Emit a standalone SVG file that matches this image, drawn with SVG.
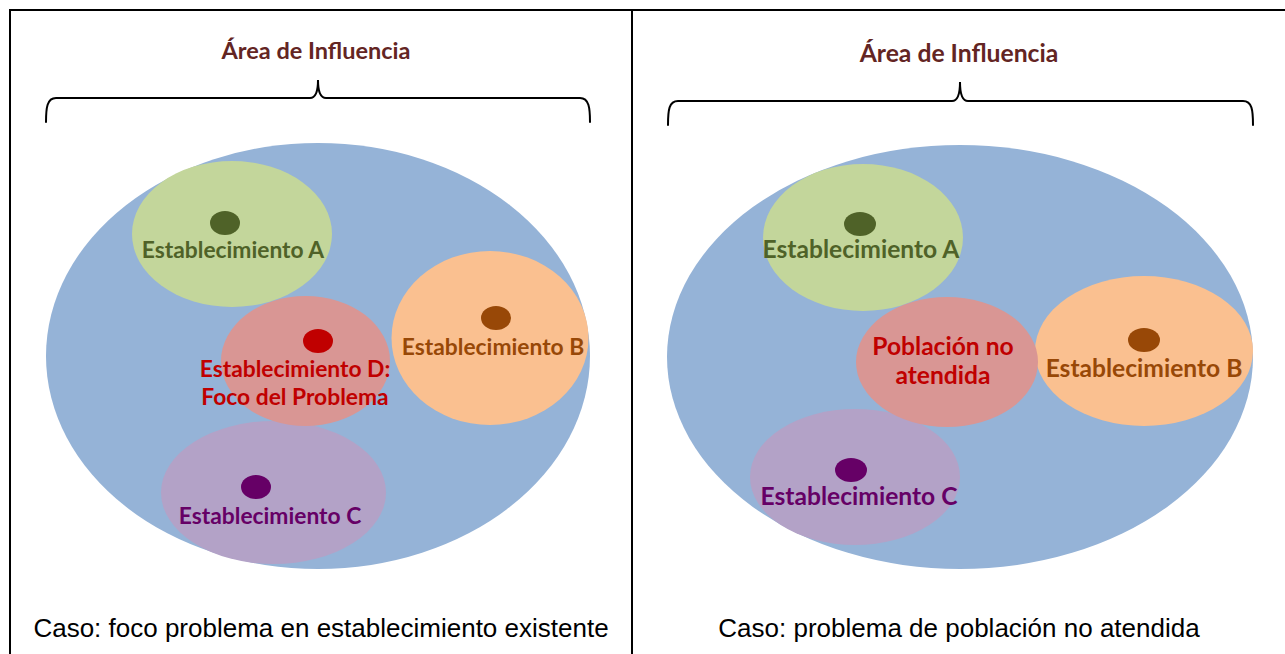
<svg xmlns="http://www.w3.org/2000/svg" width="1285" height="654" viewBox="0 0 1285 654">
<style>
.frame{stroke:#000;stroke-width:2;fill:none}
.brace{stroke:#000;stroke-width:2;fill:none;stroke-linecap:round}
.title{font-family:Lato,"Open Sans",sans-serif;font-weight:bold;fill:#632523;text-anchor:middle}
.lbl{font-family:Lato,"Open Sans",sans-serif;font-weight:bold;text-anchor:middle}
.sl{font-size:22.8px}.sr{font-size:24.6px}
.cap{font-family:"Liberation Sans",Arial,sans-serif;font-size:26px;fill:#000;text-anchor:middle}
.area{fill:#95b3d7}
.ga{fill:#c3d69b}.gb{fill:#fac090}.gc{fill:#b3a2c7}.gd{fill:#d99694}
.ca{fill:#4f6228}.cb{fill:#984807}.cc{fill:#660066}.cd{fill:#c00000}
</style>
<rect width="1285" height="654" fill="#fff"/>
<g id="frame">
<path class="frame" d="M10,654 V10 H1285 M632,10 V654"/>
</g>
<g id="left-panel">
<g id="left-title"><text class="title" x="316" y="59" font-size="23.5">Área de Influencia</text>
<path class="brace" d="M46,122 C46,108 47,98 56,98 L310,98 C315,98 318,92 318,80 C318,92 321,98 326,98 L580,98 C589,98 590,108 590,122"/></g>
<g id="left-area"><ellipse class="area" cx="318" cy="356" rx="272" ry="213"/></g>
<g id="left-A"><ellipse class="ga" cx="232" cy="234" rx="100" ry="73"/><ellipse class="ca" cx="225" cy="223" rx="15" ry="12"/></g>
<g id="left-B"><ellipse class="gb" cx="490" cy="338" rx="98.5" ry="87"/><ellipse class="cb" cx="496" cy="318" rx="15" ry="12"/></g>
<g id="left-C"><ellipse class="gc" cx="273.5" cy="492.5" rx="112.5" ry="71.5"/><ellipse class="cc" cx="256" cy="487" rx="15" ry="12"/></g>
<g id="left-D"><ellipse class="gd" cx="305.5" cy="361" rx="84.5" ry="65"/><ellipse class="cd" cx="318" cy="341" rx="15" ry="12"/></g>
<text class="lbl sl ca" x="233" y="258">Establecimiento A</text>
<text class="lbl sl cb" x="493" y="355">Establecimiento B</text>
<text class="lbl sl cc" x="270" y="524">Establecimiento C</text>
<text class="lbl sl cd" x="295" y="377">Establecimiento D:</text>
<text class="lbl sl cd" x="295" y="405">Foco del Problema</text>
<text class="cap" x="321" y="637">Caso: foco problema en establecimiento existente</text>
</g>
<g id="right-panel">
<g id="right-title"><text class="title" x="959" y="62" font-size="24.7">Área de Influencia</text>
<path class="brace" d="M668,125 C668,110 669,101 678,101 L952,101 C957,101 960,95 960,82 C960,95 963,101 968,101 L1243,101 C1252,101 1253,110 1253,125"/></g>
<g id="right-area"><ellipse class="area" cx="960" cy="357" rx="293" ry="212"/></g>
<g id="right-A"><ellipse class="ga" cx="863" cy="237.5" rx="100" ry="73.5"/><ellipse class="ca" cx="860" cy="224" rx="16" ry="12"/></g>
<g id="right-B"><ellipse class="gb" cx="1144" cy="351" rx="109" ry="75"/><ellipse class="cb" cx="1144" cy="340" rx="16" ry="12"/></g>
<g id="right-C"><ellipse class="gc" cx="855" cy="477" rx="105" ry="68"/><ellipse class="cc" cx="851" cy="470" rx="16" ry="12"/></g>
<g id="right-D"><ellipse class="gd" cx="947" cy="362" rx="91" ry="65"/></g>
<text class="lbl sr ca" x="861" y="258">Establecimiento A</text>
<text class="lbl sr cb" x="1144" y="377">Establecimiento B</text>
<text class="lbl sr cc" x="859" y="505">Establecimiento C</text>
<text class="lbl sr cd" x="943" y="355">Población no</text>
<text class="lbl sr cd" x="943" y="384">atendida</text>
<text class="cap" x="959" y="637">Caso: problema de población no atendida</text>
</g>
</svg>
